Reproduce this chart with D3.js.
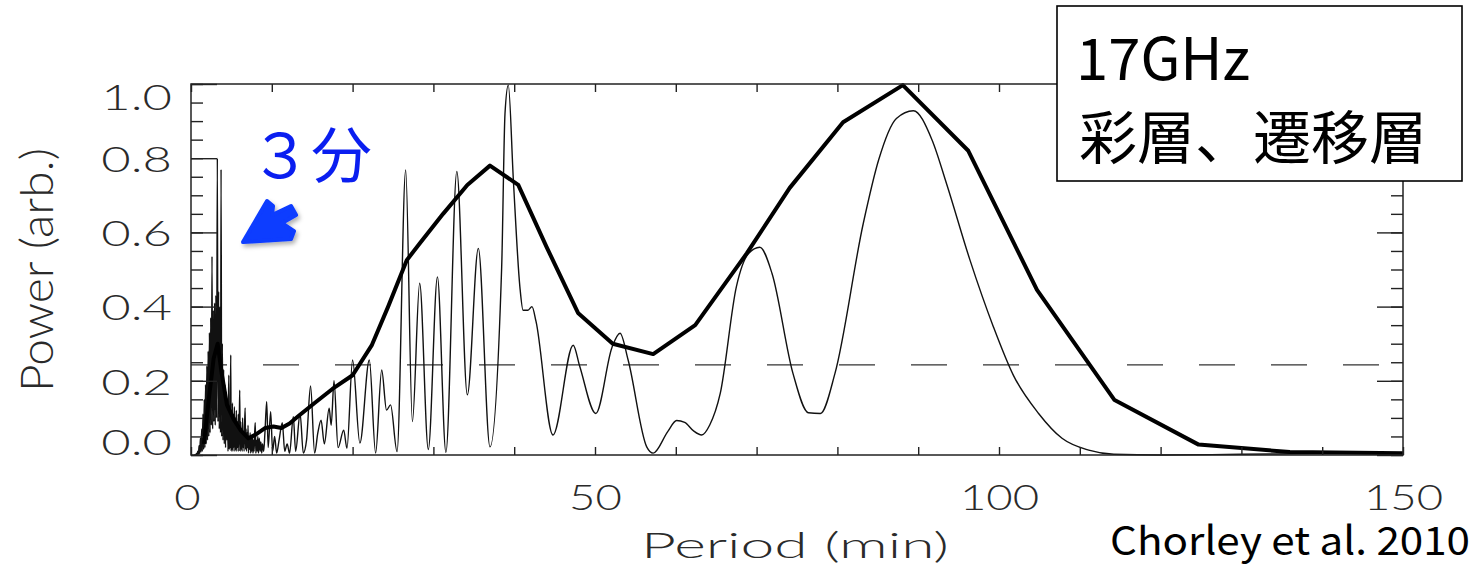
<!DOCTYPE html>
<html>
<head>
<meta charset="utf-8">
<script src="https://cdn.jsdelivr.net/npm/d3@7"></script>
<style>
  body { margin: 0; background: #fff; }
  svg { display: block; }
  .axis line { stroke: #222; stroke-width: 1.4; }
  .axis text { font-family: Lato, sans-serif; font-weight: 300; fill: #2a2a2a; }
</style>
</head>
<body>
<script>
// size of the page and the plot box
var w = 1481, h = 571;
var plotLeft = 191, plotRight = 1403, plotTop = 84, plotBottom = 455;

// x ticks (min) and y ticks (power)
var xTicks = d3.range(0, 151, 10);
var xLabels = [0, 50, 100, 150];
var yMajor = [0, 0.2, 0.4, 0.6, 0.8, 1.0];
var yMinor = d3.range(0, 1.001, 0.05);
var threshold = 0.243;

// thin curve, short periods (dense spikes round 3 min)
var spikes = [
  [0.40, 0], [0.60, 0.000], [0.68, 0.004], [0.76, 0.000], [0.84, 0.010], [0.92, 0.002],
  [1.00, 0.025], [1.08, 0.004], [1.16, 0.045], [1.24, 0.008], [1.32, 0.070], [1.40, 0.010],
  [1.48, 0.110], [1.56, 0.015], [1.64, 0.150], [1.72, 0.020], [1.80, 0.190], [1.88, 0.030],
  [1.96, 0.240], [2.04, 0.040], [2.12, 0.280], [2.20, 0.050], [2.28, 0.330], [2.36, 0.060],
  [2.44, 0.370], [2.52, 0.080], [2.60, 0.535], [2.68, 0.070], [2.76, 0.390], [2.84, 0.090],
  [2.92, 0.410], [3.00, 0.080], [3.08, 0.430], [3.16, 0.100], [3.26, 0.800], [3.34, 0.090],
  [3.42, 0.440], [3.50, 0.070], [3.58, 0.400], [3.66, 0.060], [3.72, 0.770], [3.80, 0.050],
  [3.88, 0.300], [3.96, 0.040], [4.04, 0.230], [4.12, 0.030], [4.20, 0.190], [4.28, 0.020],
  [4.36, 0.170], [4.44, 0.040], [4.52, 0.140], [4.58, 0.010], [4.63, 0.120], [4.68, 0.215],
  [4.73, 0.015], [4.78, 0.130], [4.84, 0.020], [4.88, 0.150], [4.92, 0.270], [4.97, 0.010],
  [5.02, 0.120], [5.08, 0.015], [5.13, 0.140], [5.19, 0.010], [5.25, 0.110], [5.31, 0.020],
  [5.37, 0.130], [5.43, 0.010], [5.49, 0.100], [5.55, 0.015], [5.61, 0.120], [5.67, 0.010],
  [5.73, 0.090], [5.79, 0.020], [5.85, 0.110], [5.91, 0.010], [5.97, 0.080], [6.03, 0.175],
  [6.09, 0.010], [6.15, 0.090], [6.21, 0.015], [6.27, 0.070], [6.33, 0.010], [6.39, 0.100],
  [6.45, 0.020], [6.51, 0.060], [6.57, 0.010], [6.63, 0.080], [6.70, 0.127], [6.76, 0.015],
  [6.82, 0.070], [6.88, 0.010], [6.94, 0.060], [7.00, 0.020], [7.06, 0.080], [7.12, 0.005],
  [7.18, 0.050], [7.25, 0.015], [7.32, 0.060], [7.39, 0.005], [7.46, 0.045], [7.53, 0.010],
  [7.60, 0.055], [7.67, 0.005], [7.74, 0.040], [7.81, 0.010], [7.88, 0.060], [7.95, 0.087],
  [8.03, 0.005], [8.11, 0.040], [8.19, 0.010], [8.27, 0.050], [8.35, 0.005], [8.45, 0.045],
  [8.55, 0.010], [8.65, 0.035], [8.75, 0.005], [8.85, 0.030]
];

// thin curve, longer periods
var thin = [
  [9.00, 0.010], [9.15, 0.060], [9.37, 0.144], [9.55, 0.020], [9.86, 0.117], [10.10, 0.010],
  [10.35, 0.050], [10.60, 0.005], [10.90, 0.040], [11.30, 0.087], [11.60, 0.010], [11.90, 0.030],
  [12.20, 0.005], [12.66, 0.103], [12.95, 0.010], [13.50, 0.112], [13.90, 0.005], [14.30, 0.040],
  [14.80, 0.186], [15.30, 0.005], [15.70, 0.060], [16.10, 0.094], [16.50, 0.030], [17.10, 0.126],
  [17.35, 0.080], [17.70, 0.200], [18.20, 0.020], [18.90, 0.067], [19.30, 0.018], [20.00, 0.256],
  [20.90, 0.032], [22.07, 0.256], [22.85, 0.005], [23.60, 0.229], [24.20, 0.121], [24.70, 0.135],
  [25.50, 0.009], [26.57, 0.768], [27.40, 0.090], [28.30, 0.463], [29.37, 0.015], [30.50, 0.480],
  [31.55, 0.007], [32.90, 0.764], [34.20, 0.162], [35.56, 0.557], [37.00, 0.022], [38.45, 0.507],
  [38.86, 0.920], [39.27, 0.997], [39.90, 0.740], [40.70, 0.454], [41.10, 0.390], [41.70, 0.390],
  [42.20, 0.400], [42.70, 0.360], [44.80, 0.054], [47.30, 0.296], [48.10, 0.240], [50.10, 0.112],
  [52.10, 0.290], [53.10, 0.328], [54.10, 0.256], [56.40, 0.022], [57.20, 0.005], [59.00, 0.063],
  [60.10, 0.093], [61.10, 0.088], [62.20, 0.065], [63.20, 0.054], [64.20, 0.081], [65.50, 0.166],
  [67.50, 0.454], [69.00, 0.543], [70.40, 0.560], [71.90, 0.490], [74.50, 0.220], [76.40, 0.114],
  [77.90, 0.112], [79.70, 0.220], [83.20, 0.624], [85.10, 0.795], [87.30, 0.907], [89.40, 0.928],
  [91.70, 0.850], [93.50, 0.732], [96.40, 0.526], [99.30, 0.346], [101.80, 0.214], [104.90, 0.112],
  [107.80, 0.045], [111.10, 0.013], [114.20, 0.002], [120, 0.000], [130, 0.002], [140, 0.004],
  [150, 0.005]
];

// thick curve
var thick = [
  [1.6, 0.03], [2.2, 0.15], [2.8, 0.26], [3.3, 0.30], [3.8, 0.22], [4.45, 0.135], [5.3, 0.095],
  [6.2, 0.065], [7.1, 0.045], [8.0, 0.055], [9.2, 0.073], [10.2, 0.077], [11.2, 0.073],
  [12.2, 0.085], [13.3, 0.105], [15.3, 0.14], [17.5, 0.178], [20.0, 0.215], [22.4, 0.297],
  [24.4, 0.40], [26.7, 0.525], [28.3, 0.57], [31.2, 0.65], [34.2, 0.728], [37.0, 0.78],
  [40.5, 0.728], [44.0, 0.561], [47.9, 0.383], [52.2, 0.30], [57.2, 0.272], [62.4, 0.35],
  [68.8, 0.544], [74.1, 0.72], [80.7, 0.897], [88.1, 0.997], [96.2, 0.82], [104.7, 0.445],
  [114.3, 0.148], [124.7, 0.028], [136, 0.008], [150, 0.005]
];

var x = d3.scaleLinear().domain([0, 150]).range([plotLeft, plotRight]);
var y = d3.scaleLinear().domain([0, 1]).range([plotBottom, plotTop]);

var svg = d3.select("body").append("svg").attr("width", w).attr("height", h);

var defs = svg.append("defs");
var f = defs.append("filter").attr("id", "shadow").attr("x", "-30%").attr("y", "-30%")
  .attr("width", "160%").attr("height", "160%");
f.append("feDropShadow").attr("dx", 2).attr("dy", 3).attr("stdDeviation", 2)
  .attr("flood-color", "#000").attr("flood-opacity", 0.3);

// stretch text sideways like the original figure
function widen(sel, k) {
  sel.each(function () {
    var t = this.getComputedTextLength();
    if (t > 0) d3.select(this).attr("textLength", t * k).attr("lengthAdjust", "spacingAndGlyphs");
  });
}

// dashed level
svg.append("line")
  .attr("x1", x(0)).attr("x2", x(150))
  .attr("y1", y(threshold)).attr("y2", y(threshold))
  .attr("stroke", "#333").attr("stroke-width", 1.3)
  .attr("stroke-dasharray", "36,36");

// curves
var thinLine = d3.line().x(function (d) { return x(d[0]); }).y(function (d) { return y(d[1]); })
  .curve(d3.curveMonotoneX);
var thickLine = d3.line().x(function (d) { return x(d[0]); }).y(function (d) { return y(d[1]); });

svg.append("path").datum(spikes.concat(thin))
  .attr("d", thinLine).attr("fill", "none")
  .attr("stroke", "#111").attr("stroke-width", 1.4).attr("stroke-linejoin", "round");

svg.append("path").datum(thick)
  .attr("d", thickLine).attr("fill", "none")
  .attr("stroke", "#000").attr("stroke-width", 4).attr("stroke-linejoin", "round");

// frame
svg.append("rect")
  .attr("x", plotLeft).attr("y", plotTop)
  .attr("width", plotRight - plotLeft).attr("height", plotBottom - plotTop)
  .attr("fill", "none").attr("stroke", "#222").attr("stroke-width", 1.5);

function noDomain(g) { g.select(".domain").remove(); }

// x axes, ticks pointing in
var xb = svg.append("g").attr("class", "axis").attr("transform", "translate(0," + plotBottom + ")")
  .call(d3.axisBottom(x).tickValues(xTicks).tickSize(-8).tickPadding(30)
    .tickFormat(function (d) { return xLabels.indexOf(d) >= 0 ? d : ""; }))
  .call(noDomain);
xb.selectAll("text").attr("font-size", 35).attr("dx", function (d) { return d === 0 ? -4 : 0; });
widen(xb.selectAll("text"), 1.3);

svg.append("g").attr("class", "axis").attr("transform", "translate(0," + plotTop + ")")
  .call(d3.axisTop(x).tickValues(xTicks).tickSize(-8).tickFormat(""))
  .call(noDomain);

// y axes
svg.append("g").attr("class", "axis").attr("transform", "translate(" + plotLeft + ",0)")
  .call(d3.axisLeft(y).tickValues(yMinor).tickSize(-12).tickFormat(""))
  .call(noDomain);
var yl = svg.append("g").attr("class", "axis").attr("transform", "translate(" + plotLeft + ",0)")
  .call(d3.axisLeft(y).tickValues(yMajor).tickSize(-26).tickPadding(19).tickFormat(d3.format(".1f")))
  .call(noDomain);
yl.selectAll("text").attr("font-size", 35)
  .attr("y", function (d) { return d === 1 ? 14 : d === 0 ? -12 : 2; });
widen(yl.selectAll("text"), 1.45);

svg.append("g").attr("class", "axis").attr("transform", "translate(" + plotRight + ",0)")
  .call(d3.axisRight(y).tickValues(yMinor).tickSize(-12).tickFormat(""))
  .call(noDomain);
svg.append("g").attr("class", "axis").attr("transform", "translate(" + plotRight + ",0)")
  .call(d3.axisRight(y).tickValues(yMajor).tickSize(-26).tickFormat(""))
  .call(noDomain);

// axis titles
svg.append("text").attr("x", 795).attr("y", 558)
  .attr("text-anchor", "middle").attr("font-family", "Lato").attr("font-weight", 300)
  .attr("font-size", 36).attr("fill", "#2a2a2a")
  .attr("textLength", 308).attr("lengthAdjust", "spacingAndGlyphs")
  .text("Period (min)");

svg.append("text").attr("transform", "translate(53,270) rotate(-90)")
  .attr("text-anchor", "middle").attr("font-family", "Lato").attr("font-weight", 300)
  .attr("font-size", 46).attr("fill", "#2a2a2a")
  .attr("textLength", 244).attr("lengthAdjust", "spacingAndGlyphs")
  .text("Power (arb.)");

// annotation: 3-minute arrow
svg.append("text").attr("x", 250).attr("y", 178)
  .attr("font-family", "Noto Sans CJK JP").attr("font-size", 61).attr("font-weight", 400)
  .attr("fill", "#0a1ef0")
  .text("３分");

svg.append("path")
  .attr("transform", "translate(" + x(6.44) + "," + y(0.574) + ")")
  .attr("d", "M0,0 L24,-41 L30,-36 L29,-27 L48,-36 L53,-27 L39,-19 L51,-11 L48,-3 Z")
  .attr("fill", "#0d3cff").attr("stroke", "#0d3cff").attr("stroke-width", 4)
  .attr("stroke-linejoin", "round").attr("filter", "url(#shadow)");

// label box
svg.append("rect").attr("x", 1057).attr("y", 6).attr("width", 405).attr("height", 175)
  .attr("fill", "#fff").attr("stroke", "#000").attr("stroke-width", 1.6);
svg.append("text").attr("x", 1076).attr("y", 80)
  .attr("font-family", "Noto Sans CJK JP").attr("font-size", 58).attr("fill", "#000")
  .text("17GHz");
svg.append("text").attr("x", 1079).attr("y", 159)
  .attr("font-family", "Noto Sans CJK JP").attr("font-size", 58).attr("fill", "#000")
  .text("彩層、遷移層");

svg.append("text").attr("x", 1110).attr("y", 555)
  .attr("font-family", "Noto Sans CJK JP").attr("font-size", 39).attr("fill", "#000")
  .attr("textLength", 360).attr("lengthAdjust", "spacingAndGlyphs")
  .text("Chorley et al. 2010");
</script>
</body>
</html>
